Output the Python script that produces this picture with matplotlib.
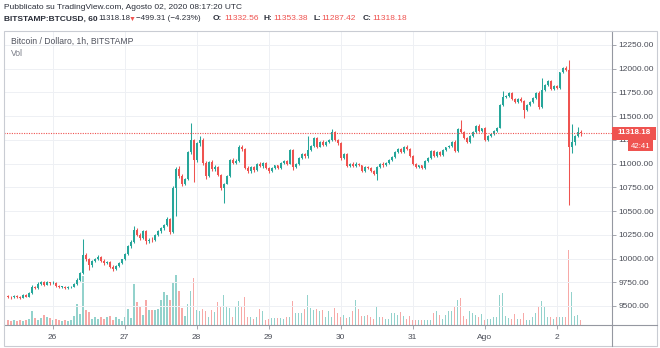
import matplotlib

matplotlib.use("Agg")
import matplotlib.dates as mdates
import matplotlib.pyplot as plt
import numpy as np
import pandas as pd
from matplotlib.patches import Rectangle

# BTCUSD 1h, Bitstamp, 25 lug 09:00 -> 2 ago 08:00
start = "2020-07-25 09:00"

opens = [
    9605, 9598, 9590, 9605, 9596, 9588, 9612, 9598, 9640, 9705, 9690, 9735,
    9750, 9725, 9748, 9738, 9745, 9712, 9700, 9705, 9690, 9698, 9702, 9730,
    9775, 9850, 10035, 9990, 9930, 9975, 10000, 10020, 9975, 9950, 9965, 9915,
    9885, 9920, 9950, 9990, 10050, 10130, 10175, 10300, 10250, 10220, 10290, 10180,
    10200, 10190, 10250, 10285, 10320, 10350, 10420, 10280, 10740, 10940, 10870, 10780,
    10840, 11120, 11250, 11040, 11220, 11250, 11010, 10870, 11020, 10940, 10960, 10880,
    10740, 10790, 10870, 11040, 11010, 11030, 11180, 11150, 10950, 10920, 10960, 10930,
    11000, 10970, 11010, 10950, 10920, 10950, 10980, 10950, 11010, 11030, 11000, 11140,
    10960, 11000, 11060, 11100, 11075, 11140, 11190, 11270, 11180, 11230, 11200, 11230,
    11250, 11330, 11250, 11220, 11060, 11100, 10970, 11000, 10970, 11000, 10980, 10920,
    10960, 10950, 10920, 10890, 10960, 11000, 10980, 11010, 11040, 11070, 11120, 11150,
    11120, 11180, 11150, 11080, 11000, 10960, 10980, 10950, 11030, 11060, 11130, 11080,
    11120, 11090, 11140, 11170, 11190, 11230, 11130, 11360, 11330, 11270, 11230, 11290,
    11330, 11400, 11340, 11370, 11250, 11290, 11310, 11340, 11380, 11620, 11700, 11710,
    11740, 11680, 11650, 11680, 11660, 11560, 11620, 11650, 11690, 11740, 11600, 11780,
    11830, 11870, 11790, 11820, 11800, 11960, 12010, 11990, 11180, 11230, 11290, 11332.56,
]
highs = [
    9620, 9610, 9618, 9615, 9604, 9625, 9622, 9650, 9720, 9715, 9748, 9768,
    9760, 9762, 9755, 9758, 9750, 9722, 9715, 9710, 9708, 9712, 9740, 9790,
    9862, 10210, 10060, 10005, 9985, 10010, 10035, 10030, 9990, 9978, 9975, 9930,
    9930, 9962, 10000, 10062, 10140, 10190, 10340, 10320, 10270, 10300, 10300, 10215,
    10230, 10260, 10300, 10330, 10365, 10440, 10430, 10760, 10960, 10975, 10890, 10850,
    11130, 11430, 11260, 11230, 11290, 11265, 11030, 11030, 11040, 10990, 10975, 10890,
    10800, 10880, 11050, 11060, 11045, 11195, 11195, 11160, 10970, 10975, 10975, 11010,
    11012, 11020, 11020, 10960, 10962, 10990, 10990, 11020, 11040, 11040, 11150, 11150,
    11010, 11070, 11110, 11115, 11290, 11200, 11280, 11285, 11240, 11245, 11240, 11262,
    11365, 11345, 11262, 11230, 11115, 11110, 11010, 11012, 11015, 11010, 10990, 10970,
    10972, 10960, 10930, 10970, 11010, 11012, 11020, 11050, 11080, 11130, 11160, 11165,
    11190, 11195, 11160, 11090, 11010, 10990, 10990, 11040, 11070, 11140, 11145, 11130,
    11130, 11150, 11180, 11200, 11240, 11245, 11370, 11460, 11345, 11285, 11300, 11340,
    11410, 11415, 11380, 11385, 11300, 11320, 11350, 11390, 11630, 11760, 11725, 11750,
    11755, 11695, 11690, 11700, 11670, 11630, 11660, 11700, 11750, 11760, 11900, 11840,
    11880, 11880, 11830, 11830, 11970, 12020, 12030, 12090, 11420, 11300, 11390, 11353.38,
]
lows = [
    9585, 9575, 9582, 9588, 9572, 9580, 9590, 9592, 9630, 9675, 9682, 9722,
    9712, 9718, 9725, 9728, 9700, 9688, 9690, 9680, 9684, 9690, 9695, 9722,
    9768, 9840, 9975, 9880, 9915, 9960, 9985, 9960, 9935, 9940, 9905, 9870,
    9878, 9910, 9940, 9980, 10040, 10110, 10165, 10240, 10200, 10210, 10150, 10160,
    10170, 10180, 10240, 10270, 10300, 10340, 10260, 10270, 10450, 10850, 10760, 10770,
    10830, 11100, 10810, 11020, 11190, 10990, 10840, 10860, 10920, 10925, 10870, 10720,
    10590, 10780, 10860, 11000, 10995, 11020, 11130, 10940, 10900, 10900, 10915, 10925,
    10960, 10955, 10940, 10905, 10910, 10940, 10940, 10945, 11000, 10990, 10995, 10930,
    10950, 10990, 11050, 11060, 11060, 11130, 11180, 11160, 11170, 11190, 11185, 11220,
    11240, 11240, 11200, 11040, 11050, 10960, 10960, 10962, 10960, 10970, 10910, 10910,
    10940, 10910, 10880, 10830, 10950, 10965, 10970, 11000, 11030, 11060, 11110, 11110,
    11110, 11140, 11070, 10990, 10950, 10950, 10940, 10940, 11020, 11050, 11070, 11070,
    11080, 11080, 11130, 11160, 11180, 11120, 11120, 11320, 11260, 11220, 11220, 11280,
    11320, 11330, 11330, 11240, 11240, 11280, 11300, 11330, 11370, 11610, 11690, 11700,
    11670, 11640, 11640, 11650, 11480, 11550, 11610, 11640, 11680, 11580, 11590, 11770,
    11820, 11780, 11780, 11790, 11790, 11950, 11980, 10560, 11110, 11200, 11280, 11287.42,
]
closes = [
    9598, 9590, 9605, 9596, 9588, 9612, 9598, 9640, 9705, 9690, 9735, 9750,
    9725, 9748, 9738, 9745, 9712, 9700, 9705, 9690, 9698, 9702, 9730, 9775,
    9850, 10035, 9990, 9930, 9975, 10000, 10020, 9975, 9950, 9965, 9915, 9885,
    9920, 9950, 9990, 10050, 10130, 10175, 10300, 10250, 10220, 10290, 10180, 10200,
    10190, 10250, 10285, 10320, 10350, 10420, 10280, 10740, 10940, 10870, 10780, 10840,
    11120, 11250, 11040, 11220, 11250, 11010, 10870, 11020, 10940, 10960, 10880, 10740,
    10790, 10870, 11040, 11010, 11030, 11180, 11150, 10950, 10920, 10960, 10930, 11000,
    10970, 11010, 10950, 10920, 10950, 10980, 10950, 11010, 11030, 11000, 11140, 10960,
    11000, 11060, 11100, 11075, 11140, 11190, 11270, 11180, 11230, 11200, 11230, 11250,
    11330, 11250, 11220, 11060, 11100, 10970, 11000, 10970, 11000, 10980, 10920, 10960,
    10950, 10920, 10890, 10960, 11000, 10980, 11010, 11040, 11070, 11120, 11150, 11120,
    11180, 11150, 11080, 11000, 10960, 10980, 10950, 11030, 11060, 11130, 11080, 11120,
    11090, 11140, 11170, 11190, 11230, 11130, 11360, 11330, 11270, 11230, 11290, 11330,
    11400, 11340, 11370, 11250, 11290, 11310, 11340, 11380, 11620, 11700, 11710, 11740,
    11680, 11650, 11680, 11660, 11560, 11620, 11650, 11690, 11740, 11600, 11780, 11830,
    11870, 11790, 11820, 11800, 11960, 12010, 11990, 11180, 11230, 11290, 11332.56, 11318.18,
]
volumes = [
    160, 120, 160, 120, 160, 120, 160, 200, 520, 240, 160, 240,
    360, 280, 240, 160, 200, 160, 120, 160, 120, 160, 320, 800,
    400, 1920, 560, 480, 200, 280, 200, 280, 200, 280, 320, 160,
    280, 200, 120, 280, 600, 240, 1600, 880, 680, 360, 960, 560,
    560, 560, 600, 960, 1280, 1160, 960, 1640, 1960, 1320, 640, 320,
    800, 1320, 1840, 560, 520, 600, 520, 280, 560, 480, 880, 720,
    1160, 680, 640, 280, 720, 920, 680, 1080, 280, 280, 200, 280,
    600, 520, 160, 200, 240, 240, 240, 240, 200, 280, 280, 920,
    440, 440, 440, 600, 1160, 640, 560, 600, 520, 560, 280, 520,
    280, 640, 440, 280, 360, 240, 280, 520, 960, 600, 320, 320,
    360, 280, 200, 720, 280, 280, 200, 200, 440, 440, 360, 480,
    320, 200, 320, 160, 160, 160, 160, 160, 160, 160, 440, 520,
    360, 200, 360, 520, 520, 680, 960, 1040, 320, 200, 520, 440,
    360, 280, 400, 160, 200, 200, 280, 280, 1160, 1240, 320, 240,
    200, 400, 200, 200, 440, 160, 160, 280, 440, 680, 920, 680,
    280, 280, 200, 280, 280, 280, 280, 2960, 1280, 320, 360, 160,
]

day_ticks = ["2020-07-26", "2020-07-27", "2020-07-28", "2020-07-29",
             "2020-07-30", "2020-07-31", "2020-08-01", "2020-08-02"]
day_labels = ["26", "27", "28", "29", "30", "31", "Ago", "2"]
price_ticks = [9500, 9750, 10000, 10250, 10500, 10750, 11000, 11250,
               11500, 11750, 12000, 12250]

UP, DOWN = "#26a69a", "#ef5350"
UP_VOL, DOWN_VOL = "#93d2cc", "#f7a9a7"
TXT = "#2a2e39"
FONT = "Liberation Sans"
plt.rcParams["font.family"] = [FONT, "DejaVu Sans"]

W, H = 660, 348
fig = plt.figure(figsize=(W / 100, H / 100), dpi=100)


def rect_px(x0, y0, x1, y1):
    return [x0 / W, 1 - y1 / H, (x1 - x0) / W, (y1 - y0) / H]


pane = rect_px(4, 30.7, 612, 324.5)
vax = fig.add_axes(pane)
ax = fig.add_axes(pane)
ax.patch.set_visible(False)

t = mdates.date2num(pd.date_range(start, periods=len(closes), freq="h"))
o, h, l, c = map(np.asarray, (opens, highs, lows, closes))
up = c >= o
hour = 1 / 24
day0 = mdates.date2num(pd.Timestamp(day_ticks[0]))
xlim = (day0 - 16.2 * hour, day0 + 186.5 * hour)

# volume sotto le candele, alto ~1/4 del pannello
vax.bar(t, volumes, width=0.62 * hour, color=np.where(up, UP_VOL, DOWN_VOL),
        linewidth=0)
vax.set_xlim(xlim)
vax.set_ylim(0, max(volumes) * 3.97)
vax.axis("off")

col = np.where(up, UP, DOWN)
ax.vlines(t, l, h, colors=col, linewidth=0.75, zorder=3)
ax.bar(t, np.maximum(np.abs(c - o), 6), bottom=np.minimum(o, c),
       width=0.62 * hour, color=col, linewidth=0, zorder=4)

ax.set_xlim(xlim)
ax.set_ylim(9305, 12400)
ax.axhline(closes[-1], color=DOWN, linestyle=(0, (1, 1.2)), linewidth=0.8, zorder=5)

ax.set_xticks(mdates.date2num(pd.to_datetime(day_ticks)))
ax.set_xticklabels(day_labels)
ax.set_yticks(price_ticks)
ax.set_yticklabels([f"{p:.2f}" for p in price_ticks])
ax.yaxis.tick_right()
ax.tick_params(axis="both", labelsize=6, colors="#9598a1", labelcolor="#4a4d57",
               length=3, width=0.6)
ax.tick_params(axis="x", pad=4)
ax.tick_params(axis="y", pad=1.5)
ax.grid(True, color="#eef0f4", linewidth=0.7, zorder=0)
for s in ("top", "left"):
    ax.spines[s].set_visible(False)
for s in ("right", "bottom"):
    ax.spines[s].set_color("#9598a1")
    ax.spines[s].set_linewidth(0.8)

# cornice esterna e separatori degli assi
fig.add_artist(Rectangle((4 / W, 1 - 345.5 / H), 653 / W, 314.8 / H,
                         transform=fig.transFigure, fill=False,
                         edgecolor="#c9ccd3", linewidth=0.8))
fig.add_artist(plt.Line2D([612 / W, 657 / W], [1 - 324.5 / H] * 2,
                          transform=fig.transFigure, color="#9598a1", lw=0.8))
fig.add_artist(plt.Line2D([612 / W] * 2, [1 - 345.5 / H, 1 - 324.5 / H],
                          transform=fig.transFigure, color="#9598a1", lw=0.8))

# etichette prezzo corrente e countdown
y_last = 1 - 133.4 / H
fig.add_artist(Rectangle((612 / W, y_last - 6.2 / H), 44 / W, 12.4 / H,
                         transform=fig.transFigure, color=DOWN, lw=0))
fig.text(634 / W, y_last + 0.4 / H, f"{closes[-1]:.2f}", color="white",
         fontsize=5.8, ha="center", va="center", weight="bold")
fig.add_artist(Rectangle((628 / W, 1 - 151 / H), 25 / W, 11 / H,
                         transform=fig.transFigure, color=DOWN, lw=0))
fig.text(640.5 / W, 1 - 146 / H, "42:41", color="white", fontsize=5.6,
         ha="center", va="center")

# intestazione
fig.text(4 / W, 1 - 7.5 / H, "Pubblicato su TradingView.com, Agosto 02, 2020 08:17:20 UTC",
         fontsize=6, color=TXT, va="center")
y2 = 1 - 19 / H
header = [
    (4, "BITSTAMP:BTCUSD, 60", TXT, "bold", 6),
    (98, f"{closes[-1]:.2f}", TXT, "normal", 5.6),
    (129, "\u25bc", DOWN, "normal", 5),
    (136, "\u2212499.31 (\u22124.23%)", TXT, "normal", 5.8),
    (213, "O:", TXT, "bold", 6), (224, f"{opens[-1]:.2f}", DOWN, "normal", 6),
    (264, "H:", TXT, "bold", 6), (273.5, f"{highs[-1]:.2f}", DOWN, "normal", 6),
    (314, "L:", TXT, "bold", 6), (321, f"{lows[-1]:.2f}", DOWN, "normal", 6),
    (363, "C:", TXT, "bold", 6), (372, f"{closes[-1]:.2f}", DOWN, "normal", 6),
]
for x, s, color, weight, size in header:
    fig.text(x / W, y2, s, fontsize=size, color=color, weight=weight, va="center")

fig.text(11 / W, 1 - 41.5 / H, "Bitcoin / Dollaro, 1h, BITSTAMP",
         fontsize=6.2, color="#50535e", va="center")
fig.text(11 / W, 1 - 53.3 / H, "Vol", fontsize=6.2, color="#787b86", va="center")

fig.savefig("out.png", dpi=100)
